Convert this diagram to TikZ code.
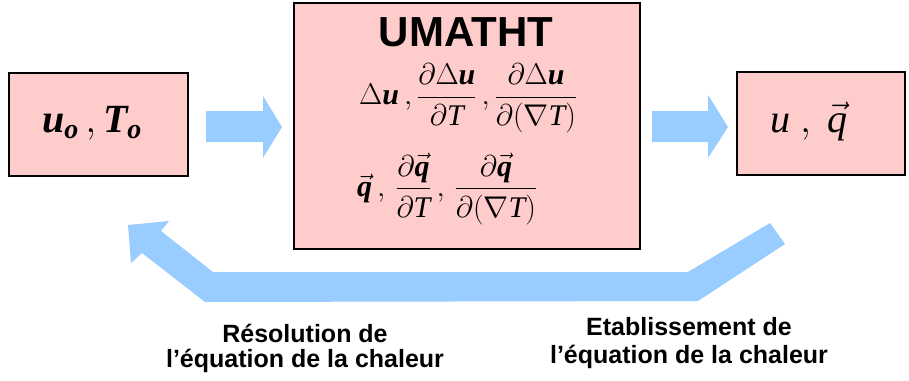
\RequirePackage{fix-cm}
\documentclass[tikz,border=0pt]{standalone}
\usepackage{amsmath}
\usepackage{fontspec}
\setmainfont{Liberation Serif}
\newfontfamily\arialfont{Liberation Sans}
\definecolor{boxpink}{RGB}{255,204,204}
\definecolor{arrowblue}{RGB}{153,204,255}
\newcommand{\BU}{\text{\normalfont\bfseries\itshape u}}
\newcommand{\BQ}{\text{\normalfont\bfseries\itshape q}}
\newcommand{\BT}{\text{\normalfont\itshape T}}
\begin{document}
\begin{tikzpicture}[x=1pt,y=-1pt,
  pinkbox/.style={draw=black,line width=2.5pt,fill=boxpink,inner sep=0pt},
  blockarrow/.style={fill=arrowblue,draw=none},
  caption/.style={font=\arialfont\bfseries\fontsize{25}{28}\selectfont,anchor=base,inner sep=0pt},
  mathtext/.style={font=\fontsize{30}{34}\selectfont,inner sep=0pt}]
\useasboundingbox (0,0) rectangle (909,380);
% boxes
\node[pinkbox,minimum width=179pt,minimum height=103pt] (left) at (98.5,124.5) {};
\node[pinkbox,minimum width=346pt,minimum height=246pt] (center) at (467,126) {};
\node[pinkbox,minimum width=168pt,minimum height=103pt] (right) at (821,123.5) {};
% box contents
\node[anchor=base,inner sep=0pt,font=\fontsize{40}{44}\selectfont] (lefttext) at (92,132)
  {$\text{\bfseries\itshape u}_{\text{\bfseries\itshape o}}\,,\text{\bfseries\itshape T}_{\text{\bfseries\itshape o}}$};
\node[anchor=base,inner sep=0pt,font=\arialfont\bfseries\fontsize{42}{46}\selectfont] (title) at (466,46) {UMATHT};
\node[mathtext,anchor=west] (line1) at (359,98)
  {$\Delta\BU\,,\dfrac{\partial\Delta\BU}{\partial\BT}\,,\dfrac{\partial\Delta\BU}{\partial(\nabla\BT)}$};
\node[mathtext,anchor=west] (line2) at (357,189)
  {$\vec{\BQ}\,,\,\dfrac{\partial\vec{\BQ}}{\partial\BT}\,,\,\dfrac{\partial\vec{\BQ}}{\partial(\nabla\BT)}$};
\node[anchor=base,inner sep=0pt,font=\fontsize{40}{44}\selectfont] (righttext) at (809,132)
  {$\text{\itshape u}\ ,\ \vec{\text{\itshape q}}$};
% small block arrows
\fill[blockarrow] (206,111) -- (263,111) -- (263,96) -- (282,127) -- (263,158) -- (263,142) -- (206,142) -- cycle;
\fill[blockarrow] (652,111) -- (708,111) -- (708,95) -- (728,127) -- (708,158) -- (708,142) -- (652,142) -- cycle;
% feedback arrow
\fill[blockarrow] (770,223) -- (785,244) -- (698,301) -- (205,302) -- (142,253) -- (131,263)
  -- (128,225) -- (169,221) -- (161,231) -- (213,272) -- (688,272) -- cycle;
% captions
\node[caption] (resA) at (305,342) {Résolution de};
\node[caption] (resB) at (305,367) {l’équation de la chaleur};
\node[caption] (etaA) at (689,335) {Etablissement de};
\node[caption] (etaB) at (689,363) {l’équation de la chaleur};
\end{tikzpicture}
\end{document}
